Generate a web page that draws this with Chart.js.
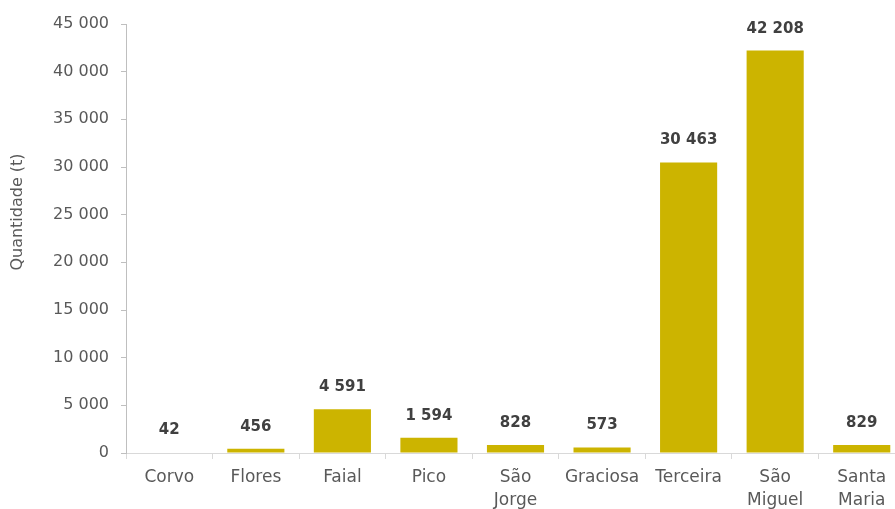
<!DOCTYPE html>
<html>
<head>
<meta charset="utf-8">
<script src="https://cdn.jsdelivr.net/npm/chart.js@4"></script>
<style>
  html, body { margin: 0; padding: 0; background: #fff; overflow: hidden; }
  #wrap { width: 905px; height: 509px; }
</style>
</head>
<body>
<div id="wrap"><canvas id="chart-display" width="905" height="509"></canvas></div>
<script>
var ilhas = ['Corvo', 'Flores', 'Faial', 'Pico', ['São', 'Jorge'], 'Graciosa', 'Terceira', ['São', 'Miguel'], ['Santa', 'Maria']];
var quantidades = [42, 456, 4591, 1594, 828, 573, 30463, 42208, 829];
var yMax = 45000;
var yStep = 5000;
var tituloY = 'Quantidade (t)';

var corBarra = '#CCB400';
var corTexto = '#595959';
var fonte = '"DejaVu Sans", sans-serif';

// 45000 -> "45 000"
function espacos(v) {
    return String(v).replace(/\B(?=(\d{3})+(?!\d))/g, ' ');
}

// values printed above each bar, plus the vertical axis title
var rotulosBarras = {
    id: 'rotulosBarras',
    afterDatasetsDraw: function(chart) {
        var ctx = chart.ctx;
        var meta = chart.getDatasetMeta(0);
        ctx.save();
        ctx.font = 'bold 15px ' + fonte;
        ctx.fillStyle = '#404040';
        ctx.textAlign = 'center';
        ctx.textBaseline = 'middle';
        meta.data.forEach(function(bar, i) {
            ctx.fillText(espacos(quantidades[i]), bar.x, bar.y - 22);
        });
        ctx.restore();

        // axis title sits a bit above the middle of the axis
        ctx.save();
        ctx.translate(18, 212);
        ctx.rotate(-Math.PI / 2);
        ctx.font = '16px ' + fonte;
        ctx.fillStyle = corTexto;
        ctx.textAlign = 'center';
        ctx.textBaseline = 'middle';
        ctx.fillText(tituloY, 0, 0);
        ctx.restore();
    }
};

var ctx = document.getElementById('chart-display');

new Chart(ctx, {
    type: 'bar',
    data: {
        labels: ilhas,
        datasets: [{
            label: tituloY,
            data: quantidades,
            backgroundColor: corBarra,
            borderWidth: 0,
            barPercentage: 0.66,
            categoryPercentage: 1
        }]
    },
    options: {
        responsive: false,
        animation: false,
        layout: { padding: { top: 24, left: 0, right: 0, bottom: 0 } },
        plugins: {
            legend: { display: false },
            tooltip: { enabled: false }
        },
        scales: {
            x: {
                grid: {
                    offset: true,
                    drawOnChartArea: false,
                    drawTicks: true,
                    tickLength: 6,
                    color: '#D9D9D9'
                },
                border: { color: '#D9D9D9', width: 1 },
                ticks: {
                    color: corTexto,
                    font: { family: fonte, size: 17, lineHeight: 1.3 },
                    padding: 8,
                    maxRotation: 0,
                    autoSkip: false
                },
                afterFit: function(scale) { scale.height = 56; }
            },
            y: {
                min: 0,
                max: yMax,
                grid: {
                    drawOnChartArea: false,
                    drawTicks: true,
                    tickLength: 5,
                    color: '#BFBFBF'
                },
                border: { color: '#BFBFBF', width: 1 },
                ticks: {
                    stepSize: yStep,
                    color: corTexto,
                    font: { family: fonte, size: 16 },
                    padding: 12,
                    callback: function(v) { return espacos(v); }
                },
                afterFit: function(scale) { scale.width = 126; }
            }
        }
    },
    plugins: [rotulosBarras]
});
</script>
</body>
</html>
